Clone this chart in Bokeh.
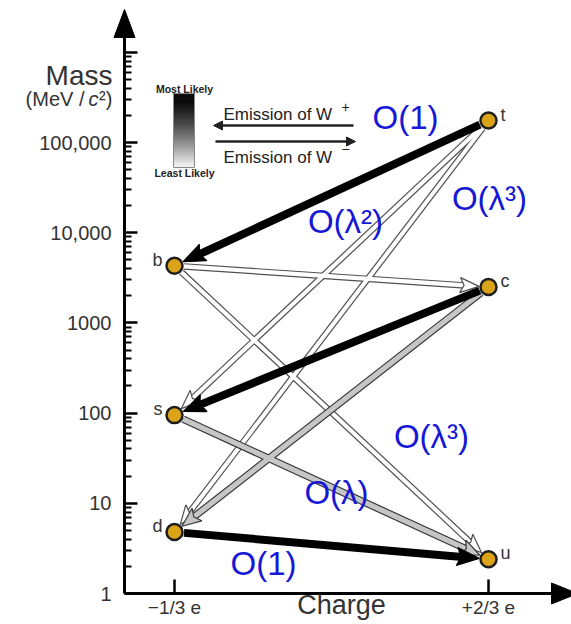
import numpy as np
from bokeh.plotting import figure
from bokeh.models import FixedTicker, Label, Arrow, NormalHead, Range1d
from bokeh.embed import file_html
from bokeh.resources import INLINE
from bokeh.core.properties import value

# ---------------- data ----------------
quarks = ["d", "s", "b", "u", "c", "t"]
quark_charge = [-1/3, -1/3, -1/3, 2/3, 2/3, 2/3]
quark_mass = [4.8, 95, 4300, 2.4, 2500, 175000]          # MeV/c^2

link_from = ["t", "t", "t", "c", "c", "b", "b", "s", "d"]
link_to = ["b", "s", "d", "s", "d", "c", "u", "u", "u"]
link_strength = ["high", "low", "low", "high", "mid", "low", "low", "mid", "high"]

order_texts = ["O(1)", "O(λ³)", "O(λ²)", "O(λ³)", "O(λ)", "O(1)"]

y_tick_values = [1, 10, 100, 1000, 10000, 100000, 1000000]
y_tick_labels = ["1", "10", "100", "1000", "10,000", "100,000", ""]
x_tick_values = [-1/3, 2/3]
x_tick_labels = ["−1/3 e", "+2/3 e"]

# ---------------- layout ----------------
W, H = 571, 624
PXX = 314.0      # px per unit charge
PXY = 90.2       # px per decade
X_REF_PX = 174   # page px of charge -1/3
Y_REF_PX = 593   # page px of mass 1
AXIS_X_PX = 124

def dx(px):
    return -1/3 + (px - X_REF_PX) / PXX

def dy(py):
    return 10 ** ((Y_REF_PX - py) / PXY)

FONT = "Liberation Sans"
TXT = "#333333"
BLUE = "#1717d6"

p = figure(width=W, height=H, output_backend="svg", toolbar_location=None,
           y_axis_type="log",
           x_range=Range1d(dx(0), dx(W)), y_range=Range1d(dy(H), dy(0)),
           min_border_left=0, min_border_right=0,
           min_border_top=0, min_border_bottom=0)
p.outline_line_color = None
p.grid.visible = False
p.background_fill_color = "white"
p.border_fill_color = "white"

# ---- axes (drawn at fixed positions inside the frame) ----
minor = [k * 10 ** n for n in range(0, 6) for k in range(2, 10)]
p.yaxis.ticker = FixedTicker(ticks=y_tick_values, minor_ticks=minor)
p.yaxis.major_label_overrides = {v: l for v, l in zip(y_tick_values, y_tick_labels)}
p.xaxis.ticker = FixedTicker(ticks=x_tick_values)
p.xaxis.major_label_overrides = {v: l for v, l in zip(x_tick_values, x_tick_labels)}
p.yaxis.fixed_location = dx(AXIS_X_PX)
p.xaxis.fixed_location = 1
p.yaxis.bounds = (1, dy(30))
p.xaxis.bounds = (dx(AXIS_X_PX), dx(555))
for ax in (p.xaxis, p.yaxis):
    ax.axis_line_width = 3
    ax.axis_line_color = "black"
    ax.major_tick_line_color = "black"
    ax.minor_tick_line_color = "black"
    ax.major_tick_line_width = 2.5
    ax.minor_tick_line_width = 2
    ax.major_tick_out = 0
    ax.minor_tick_out = 0
    ax.major_label_text_font = FONT
    ax.major_label_text_color = TXT
p.yaxis.major_tick_in = 13
p.yaxis.minor_tick_in = 7
p.yaxis.major_label_text_font_size = "20px"
p.yaxis.major_label_standoff = 13
p.xaxis.major_tick_in = 14
p.xaxis.minor_tick_in = 0
p.xaxis.major_label_text_font_size = "19px"
p.xaxis.major_label_standoff = 3

# axis arrow heads
p.patch(x=[dx(AXIS_X_PX), dx(AXIS_X_PX - 10.5), dx(AXIS_X_PX + 10.5)],
        y=[dy(9), dy(37), dy(37)], fill_color="black", line_color="black")
p.patch(x=[dx(577), dx(551), dx(551)],
        y=[dy(Y_REF_PX), dy(Y_REF_PX - 10.5), dy(Y_REF_PX + 10.5)],
        fill_color="black", line_color="black")

# ---- axis titles ----
p.add_layout(Label(x=dx(112), y=dy(75), text="Mass", text_align="right",
                   text_baseline="alphabetic", text_font_size="28px",
                   text_color=TXT, text_font=FONT))
p.add_layout(Label(x=dx(84), y=dy(98), text="(MeV /", text_align="right",
                   text_baseline="alphabetic", text_font_size="20px",
                   text_color=TXT, text_font=FONT))
p.add_layout(Label(x=dx(88), y=dy(98), text="c", text_align="left",
                   text_baseline="alphabetic", text_font_size="20px",
                   text_font_style="italic", text_color=TXT, text_font=FONT))
p.add_layout(Label(x=dx(98.5), y=dy(98), text="²)", text_align="left",
                   text_baseline="alphabetic", text_font_size="20px",
                   text_color=TXT, text_font=FONT))
p.add_layout(Label(x=dx(341), y=dy(604), text="Charge", text_align="center",
                   text_baseline="middle", text_font_size="27px",
                   text_color=TXT, text_font=FONT))

# ---- legend: gradient bar ----
N = 60
edges = np.linspace(167, 93, N + 1)
shades = []
for i in range(N):
    t = (i + 0.5) / N
    g = int(round(250 * (1 - t) ** 1.35))
    g = max(g, 12)
    shades.append("#%02x%02x%02x" % (g, g, g))
p.quad(left=[dx(173)] * N, right=[dx(194)] * N,
       bottom=[dy(e) for e in edges[:-1]], top=[dy(e) for e in edges[1:]],
       fill_color=shades, line_color=shades, line_width=1)
p.quad(left=[dx(173)], right=[dx(194)], bottom=[dy(167)], top=[dy(93)],
       fill_color=None, line_color="#888888", line_width=1)
p.add_layout(Label(x=dx(184), y=dy(88), text="Most Likely", text_align="center",
                   text_baseline="middle", text_font_size="10.5px",
                   text_font_style="bold", text_color="#222222", text_font=FONT))
p.add_layout(Label(x=dx(184), y=dy(172), text="Least Likely", text_align="center",
                   text_baseline="middle", text_font_size="10.5px",
                   text_font_style="bold", text_color="#222222", text_font=FONT))
# legend arrows
p.add_layout(Arrow(x_start=dx(353), y_start=dy(125), x_end=dx(213), y_end=dy(125),
                   line_width=2.5, line_color="#222222",
                   end=NormalHead(size=9, fill_color="#222222", line_color="#222222")))
p.add_layout(Arrow(x_start=dx(215), y_start=dy(141), x_end=dx(355), y_end=dy(141),
                   line_width=2.5, line_color="#222222",
                   end=NormalHead(size=9, fill_color="#222222", line_color="#222222")))
for yy, sup, sy in ((113.5, "+", 106), (156.5, "−", 148)):
    p.add_layout(Label(x=dx(223), y=dy(yy), text="Emission of W", text_align="left",
                       text_baseline="middle", text_font_size="17px",
                       text_color="#222222", text_font=FONT))
    p.add_layout(Label(x=dx(341), y=dy(sy), text=sup, text_align="left",
                       text_baseline="middle", text_font_size="14px",
                       text_color="#222222", text_font=FONT))

# ---- transition arrows ----
pos = {q: np.array([c * PXX, np.log10(m) * PXY])
       for q, c, m in zip(quarks, quark_charge, quark_mass)}
styles = {
    "low": dict(fill="white", edge="#505050", body=6.5, hl=19, hw=7.5),
    "mid": dict(fill="#c6c6c6", edge="#3a3a3a", body=7.5, hl=19, hw=8),
    "high": dict(fill="black", edge="black", body=8, hl=22, hw=9),
}
R = 9.5
for level in ("low", "mid", "high"):
    st = styles[level]
    x0, y0, x1, y1, hx, hy = [], [], [], [], [], []
    for a, b, s in zip(link_from, link_to, link_strength):
        if s != level:
            continue
        pa, pb = pos[a], pos[b]
        d = pb - pa
        u = d / np.linalg.norm(d)
        n = np.array([-u[1], u[0]])
        start = pa + u * R
        tip = pb - u * R
        base = tip - u * st["hl"]
        notch = base + u * 4
        body_end = base + u * 5
        x0.append(start[0] / PXX); y0.append(10 ** (start[1] / PXY))
        x1.append(body_end[0] / PXX); y1.append(10 ** (body_end[1] / PXY))
        poly = [tip, base + n * st["hw"], notch, base - n * st["hw"]]
        hx.append([q[0] / PXX for q in poly])
        hy.append([10 ** (q[1] / PXY) for q in poly])
    if level == "high":
        p.segment(x0, y0, x1, y1, line_color="black", line_width=st["body"])
    else:
        p.segment(x0, y0, x1, y1, line_color=st["edge"], line_width=st["body"])
        p.segment(x0, y0, x1, y1, line_color=st["fill"], line_width=st["body"] - 2.4)
    p.patches(hx, hy, fill_color=st["fill"], line_color=st["edge"], line_width=1.2)

# ---- quarks ----
p.scatter(x=quark_charge, y=quark_mass, size=16, marker="circle",
          fill_color="#dba418", line_color="#1e1e1e", line_width=2.5)
left = [i for i, c in enumerate(quark_charge) if c < 0]
right = [i for i, c in enumerate(quark_charge) if c > 0]
p.text(x=[quark_charge[i] for i in left], y=[quark_mass[i] for i in left],
       text=[quarks[i] for i in left], x_offset=-12, y_offset=-6,
       text_align="right", text_baseline="middle", text_font_size="18px",
       text_color=TXT, text_font=value(FONT))
p.text(x=[quark_charge[i] for i in right], y=[quark_mass[i] for i in right],
       text=[quarks[i] for i in right], x_offset=12, y_offset=-6,
       text_align="left", text_baseline="middle", text_font_size="18px",
       text_color=TXT, text_font=value(FONT))

# ---- order-of-magnitude annotations ----
order_anchor_px = [(405, 117), (489, 198), (345, 221), (431, 436), (336, 492), (263, 563)]
for txt, (ax_, ay_) in zip(order_texts, order_anchor_px):
    p.add_layout(Label(x=dx(ax_), y=dy(ay_), text=txt, text_align="center",
                       text_baseline="middle", text_font_size="33px",
                       text_color=BLUE, text_font=FONT))

open("out.html", "w").write(file_html(p, INLINE))
